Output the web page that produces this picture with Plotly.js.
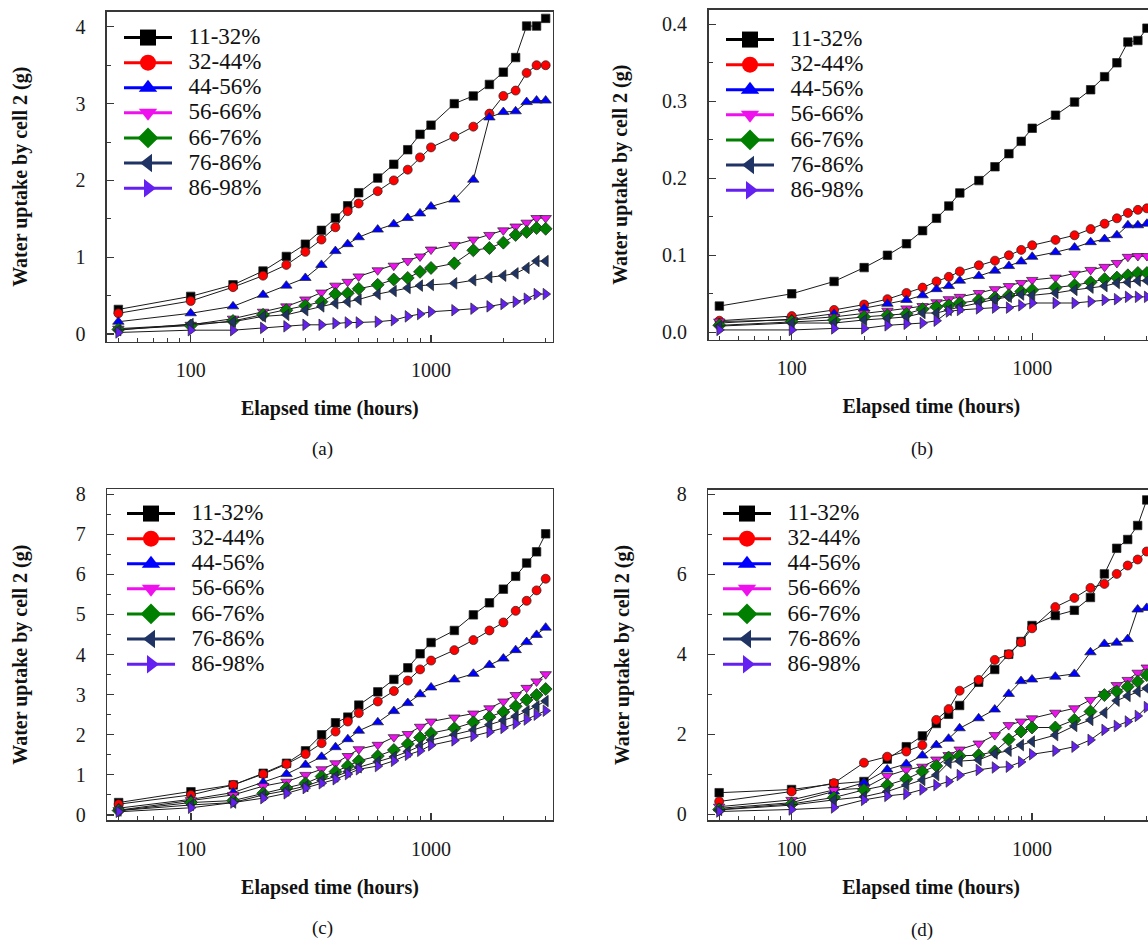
<!DOCTYPE html>
<html><head><meta charset="utf-8">
<script src="https://cdn.plot.ly/plotly-3.0.1.min.js"></script>
<style>html,body{margin:0;padding:0;overflow:hidden;background:#fff;width:1148px;height:941px}#chart{width:1200px;height:941px}</style>
</head><body><div id="chart"></div><script>
// ---- data ----
const hours = [50,100,150,200,250,300,350,400,450,500,600,700,800,900,1000,1250,1500,1750,2000,2250,2500,2750,3000];
const seriesNames = ['11-32%','32-44%','44-56%','56-66%','66-76%','76-86%','86-98%'];
const xTickVals = [100,1000];
const xTickText = ['100','1000'];
const xMinorVals = [50,60,70,80,90,200,300,400,500,600,700,800,900,2000,3000];
const panelLabels = ['(a)','(b)','(c)','(d)'];
const xTitle = 'Elapsed time (hours)';
const yTitle = 'Water uptake by cell 2 (g)';

// panel (a)
const a1 = [0.32,0.49,0.64,0.82,1.01,1.17,1.35,1.51,1.67,1.84,2.03,2.21,2.40,2.60,2.72,3.00,3.10,3.25,3.41,3.60,4.01,4.01,4.11];
const a2 = [0.27,0.43,0.61,0.76,0.90,1.07,1.23,1.39,1.60,1.70,1.86,2.00,2.14,2.30,2.43,2.57,2.70,2.87,3.10,3.17,3.40,3.50,3.50];
const a3 = [0.16,0.27,0.36,0.51,0.63,0.73,0.90,1.08,1.17,1.26,1.36,1.43,1.51,1.57,1.66,1.75,2.01,2.82,2.89,2.90,3.02,3.04,3.04];
const a4 = [0.07,0.12,0.20,0.29,0.36,0.45,0.54,0.63,0.68,0.75,0.83,0.89,0.95,1.01,1.10,1.16,1.23,1.29,1.35,1.40,1.45,1.51,1.51];
const a5 = [0.06,0.11,0.17,0.25,0.31,0.37,0.42,0.52,0.53,0.59,0.64,0.71,0.73,0.81,0.86,0.92,1.09,1.12,1.19,1.29,1.33,1.38,1.37];
const a6 = [0.05,0.13,0.16,0.23,0.25,0.31,0.36,0.40,0.42,0.45,0.52,0.56,0.60,0.63,0.64,0.66,0.70,0.74,0.76,0.79,0.86,0.95,0.95];
const a7 = [0.02,0.05,0.05,0.08,0.10,0.12,0.12,0.14,0.15,0.15,0.16,0.18,0.23,0.26,0.29,0.31,0.33,0.36,0.39,0.42,0.46,0.52,0.52];
// panel (b)
const b1 = [0.034,0.050,0.066,0.084,0.100,0.115,0.132,0.148,0.164,0.181,0.197,0.215,0.232,0.248,0.265,0.282,0.299,0.315,0.332,0.350,0.377,0.379,0.395];
const b2 = [0.015,0.021,0.029,0.036,0.043,0.051,0.058,0.066,0.072,0.079,0.087,0.093,0.100,0.107,0.113,0.120,0.126,0.134,0.141,0.148,0.155,0.159,0.161];
const b3 = [0.012,0.017,0.024,0.031,0.037,0.042,0.048,0.056,0.060,0.067,0.073,0.080,0.086,0.092,0.098,0.104,0.110,0.117,0.121,0.126,0.139,0.139,0.141];
const b4 = [0.014,0.016,0.020,0.025,0.028,0.031,0.034,0.039,0.043,0.046,0.051,0.056,0.060,0.064,0.068,0.071,0.076,0.081,0.085,0.090,0.098,0.099,0.099];
const b5 = [0.009,0.014,0.016,0.020,0.022,0.024,0.030,0.033,0.035,0.038,0.042,0.045,0.048,0.053,0.055,0.058,0.061,0.065,0.069,0.071,0.074,0.077,0.077];
const b6 = [0.008,0.012,0.012,0.016,0.018,0.020,0.025,0.025,0.029,0.033,0.038,0.043,0.046,0.049,0.048,0.051,0.055,0.058,0.060,0.064,0.065,0.067,0.067];
const b7 = [0.003,0.003,0.005,0.005,0.009,0.011,0.012,0.015,0.027,0.029,0.031,0.032,0.032,0.035,0.038,0.038,0.038,0.040,0.042,0.043,0.046,0.046,0.046];
// panel (c)
const c1 = [0.31,0.58,0.75,1.04,1.29,1.60,2.00,2.30,2.44,2.74,3.07,3.38,3.67,4.02,4.30,4.60,4.99,5.29,5.63,5.95,6.28,6.56,7.01];
const c2 = [0.27,0.50,0.75,1.02,1.27,1.52,1.79,2.08,2.33,2.54,2.83,3.09,3.35,3.63,3.85,4.11,4.36,4.60,4.80,5.09,5.34,5.60,5.89];
const c3 = [0.17,0.39,0.56,0.81,1.02,1.25,1.45,1.69,1.89,2.10,2.31,2.59,2.79,3.01,3.18,3.38,3.52,3.74,3.90,4.11,4.31,4.49,4.67];
const c4 = [0.12,0.37,0.50,0.72,0.83,1.00,1.14,1.29,1.47,1.64,1.75,1.94,2.02,2.20,2.33,2.43,2.53,2.66,2.83,2.99,3.17,3.33,3.51];
const c5 = [0.11,0.31,0.36,0.54,0.67,0.79,0.96,1.08,1.22,1.35,1.47,1.62,1.77,1.93,2.04,2.16,2.31,2.44,2.57,2.71,2.87,2.99,3.14];
const c6 = [0.11,0.25,0.31,0.50,0.61,0.72,0.86,0.96,1.08,1.19,1.33,1.45,1.58,1.72,1.87,2.00,2.12,2.25,2.36,2.46,2.59,2.71,2.84];
const c7 = [0.08,0.18,0.31,0.42,0.54,0.67,0.79,0.89,1.02,1.14,1.22,1.35,1.50,1.60,1.74,1.86,1.97,2.07,2.17,2.28,2.38,2.50,2.60];
// panel (d)
const d1 = [0.54,0.62,0.76,0.82,1.38,1.69,1.96,2.27,2.50,2.72,3.30,3.62,4.00,4.32,4.72,4.97,5.10,5.42,6.01,6.65,6.87,7.22,7.86];
const d2 = [0.32,0.57,0.78,1.29,1.44,1.57,1.73,2.36,2.63,3.09,3.36,3.86,4.00,4.30,4.65,5.18,5.41,5.66,5.76,6.01,6.22,6.37,6.57];
const d3 = [0.15,0.29,0.57,0.79,1.12,1.26,1.47,1.73,1.89,2.15,2.40,2.62,3.01,3.33,3.37,3.44,3.51,4.05,4.26,4.29,4.38,5.12,5.16];
const d4 = [0.19,0.36,0.61,0.65,0.96,1.11,1.19,1.37,1.48,1.62,1.77,1.98,2.23,2.32,2.40,2.54,2.65,2.86,3.01,3.23,3.36,3.54,3.67];
const d5 = [0.12,0.26,0.42,0.61,0.73,0.88,1.07,1.21,1.42,1.46,1.48,1.57,1.87,2.07,2.17,2.17,2.36,2.57,2.98,3.07,3.19,3.32,3.48];
const d6 = [0.11,0.23,0.36,0.44,0.57,0.73,0.86,0.98,1.29,1.33,1.36,1.52,1.59,1.73,1.82,1.98,2.21,2.36,2.54,2.84,2.96,3.07,3.15];
const d7 = [0.07,0.12,0.17,0.36,0.46,0.51,0.62,0.73,0.82,0.98,1.11,1.17,1.19,1.31,1.50,1.59,1.69,1.86,2.11,2.21,2.32,2.46,2.68];

// ---- style ----
const W = 1200, H = 941;
const FONT = '"Liberation Serif", "Times New Roman", serif';
const colors = ['#000000','#FF0000','#0000FF','#EE11EE','#007F00','#1F3464','#6420F0'];
const symbols = ['square','circle','triangle-up','triangle-down','diamond','triangle-left','triangle-right'];
const msize = [8.5,9,10,10,10,10,10];
const AX = '#383838';

const panels = [
  {data:[a1,a2,a3,a4,a5,a6,a7], box:[107,552.7,11.7,341.7], xr:[1.6517,3.5064], yr:[-0.100,4.197], dt:1, minor:0.5, fmt:'', lab:[322,449], leg:[119,20], ys:42, pad:4},
  {data:[b1,b2,b3,b4,b5,b6,b7], box:[708.5,1154.2,10,339.5], xr:[1.6538,3.5073], yr:[-0.0094,0.4186], dt:0.1, minor:0.05, fmt:'.1f', lab:[922,449], leg:[721,22], ys:29, pad:4},
  {data:[c1,c2,c3,c4,c5,c6,c7], box:[107.3,552.7,489.3,820], xr:[1.6517,3.5064], yr:[-0.125,8.12], dt:1, minor:0.5, fmt:'', lab:[322,928], leg:[122,496], ys:42, pad:2},
  {data:[d1,d2,d3,d4,d5,d6,d7], box:[708.3,1154,490,820], xr:[1.6538,3.5073], yr:[-0.1425,8.1075], dt:2, minor:1, fmt:'', lab:[922,930], leg:[718,496], ys:42, pad:2}
];

const traces = [];
const layout = {
  width: W, height: H, autosize: false,
  margin: {l:0, r:0, t:0, b:0},
  paper_bgcolor: '#fff', plot_bgcolor: '#fff',
  font: {family: FONT, color: '#111'},
  showlegend: true,
  annotations: []
};

panels.forEach((p, i) => {
  const n = i + 1;
  const xk = n === 1 ? 'xaxis' : 'xaxis' + n;
  const yk = n === 1 ? 'yaxis' : 'yaxis' + n;
  const xr = n === 1 ? 'x' : 'x' + n;
  const yr = n === 1 ? 'y' : 'y' + n;
  const lg = n === 1 ? 'legend' : 'legend' + n;
  const [l, r, t, b] = p.box;
  layout[xk] = {
    type: 'log', domain: [l / W, r / W], anchor: yr, range: p.xr,
    tickmode: 'array', tickvals: xTickVals, ticktext: xTickText,
    ticks: 'inside', ticklen: 7, tickwidth: 1.2, tickcolor: AX,
    minor: {tickmode: 'array', tickvals: xMinorVals, ticks: 'inside', ticklen: 4, tickwidth: 1, tickcolor: AX},
    showline: true, linecolor: AX, linewidth: 1.6, mirror: true,
    showgrid: false, zeroline: false,
    tickfont: {family: FONT, size: 20, color: '#1a1a1a'},
    ticklabelstandoff: 10,
    title: {text: '\u00a0'.repeat(4) + xTitle, font: {family: FONT, size: 20, color: '#111', weight: 'bold'}, standoff: 21}
  };
  layout[yk] = {
    domain: [1 - b / H, 1 - t / H], anchor: xr, range: p.yr,
    tick0: 0, dtick: p.dt, tickformat: p.fmt,
    ticks: 'inside', ticklen: 7, tickwidth: 1.2, tickcolor: AX,
    minor: {dtick: p.minor, tick0: 0, ticks: 'inside', ticklen: 4, tickwidth: 1, tickcolor: AX},
    showline: true, linecolor: AX, linewidth: 1.6, mirror: true,
    showgrid: false, zeroline: false,
    tickfont: {family: FONT, size: 20, color: '#1a1a1a'},
    ticklabelstandoff: 16,
    title: {text: '\u00a0'.repeat(p.pad) + yTitle, font: {family: FONT, size: 20, color: '#111', weight: 'bold'}, standoff: p.ys}
  };
  layout[lg] = {
    x: p.leg[0] / W, y: 1 - p.leg[1] / H, xanchor: 'left', yanchor: 'top',
    xref: 'paper', yref: 'paper',
    bgcolor: 'rgba(0,0,0,0)', borderwidth: 0,
    font: {family: FONT, size: 17, color: '#111'},
    itemwidth: 48, tracegroupgap: 0, itemclick: false, itemdoubleclick: false
  };
  layout.annotations.push({
    text: panelLabels[i], xref: 'paper', yref: 'paper',
    x: p.lab[0] / W, y: 1 - p.lab[1] / H, xanchor: 'center', yanchor: 'middle',
    showarrow: false, font: {family: FONT, size: 19, color: '#111'}
  });
  p.data.forEach((vals, k) => {
    traces.push({
      type: 'scatter', mode: 'lines+markers', x: hours, y: vals,
      xaxis: xr, yaxis: yr, name: seriesNames[k], legendgroup: 'p' + n + 's' + k,
      showlegend: false, cliponaxis: true,
      line: {color: '#1a1a1a', width: 1},
      marker: {symbol: symbols[k], size: msize[k], color: colors[k], line: {color: '#222', width: 0.7}}
    });
  });
  // legend entries (no data points of their own)
  seriesNames.forEach((nm, k) => {
    traces.push({
      type: 'scatter', mode: 'lines+markers', x: [null], y: [null],
      xaxis: xr, yaxis: yr, legend: lg, legendgroup: 'p' + n + 's' + k,
      name: '<span style="font-family:\'Liberation Serif\',serif;font-size:23px">\u2002' + nm + '</span>',
      showlegend: true, hoverinfo: 'skip',
      line: {color: colors[k], width: 3},
      marker: {symbol: symbols[k], size: 16, color: colors[k], line: {width: 0}}
    });
  });
});

Plotly.newPlot('chart', traces, layout, {staticPlot: true, displayModeBar: false});
</script></body></html>
